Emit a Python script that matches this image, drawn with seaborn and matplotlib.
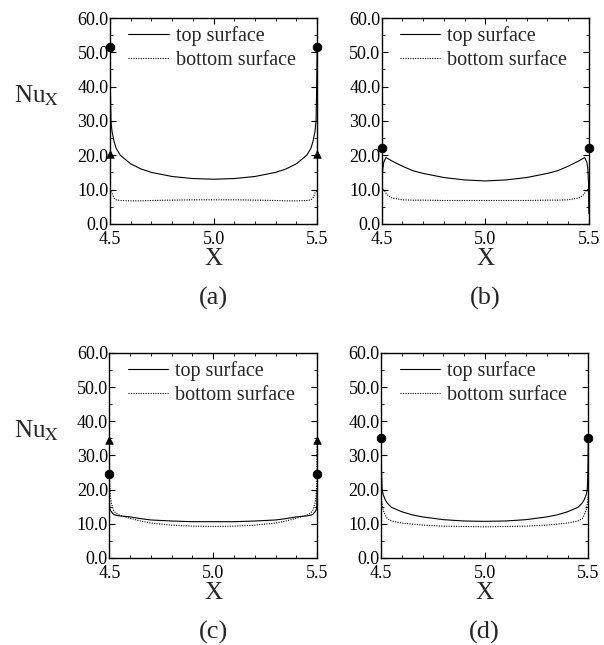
import pandas as pd
import matplotlib.pyplot as plt
import seaborn as sns
from matplotlib.ticker import MultipleLocator, FormatStrFormatter

# ==========================================
# 1. DADOS
# ==========================================
X = [4.500, 4.502, 4.505, 4.51, 4.52, 4.53, 4.55, 4.60, 4.65, 4.70, 4.80, 4.90, 5.00,
     5.10, 5.20, 5.30, 5.35, 5.40, 5.45, 5.47, 5.48, 5.49, 5.495, 5.498, 5.500]

TOP_A = [50.0, 40.0, 30.0, 27.0, 24.0, 22.0, 20.0, 17.5, 16.0, 15.0, 13.8, 13.2, 13.0,
         13.2, 13.8, 15.0, 16.0, 17.5, 20.0, 22.0, 24.0, 27.0, 30.0, 40.0, 50.0]
BOT_A = [10.0, 9.5, 9.5, 9.0, 7.5, 7.0, 6.8, 6.7, 6.7, 6.8, 6.9, 7.0, 7.0,
         7.0, 6.9, 6.8, 6.7, 6.7, 6.8, 7.0, 7.5, 9.0, 9.5, 9.5, 10.0]

TOP_B = [3.0, 12.0, 16.0, 18.0, 19.3, 19.0, 18.3, 16.8, 15.5, 14.7, 13.5, 12.8, 12.5,
         12.8, 13.5, 14.7, 15.5, 16.8, 18.3, 19.0, 19.3, 18.0, 16.0, 12.0, 3.0]
BOT_B = [5.0, 9.0, 10.0, 10.0, 9.0, 8.2, 7.5, 7.0, 6.9, 6.9, 6.8, 6.8, 6.8,
         6.8, 6.8, 6.9, 6.9, 7.0, 7.5, 8.2, 9.0, 10.0, 10.0, 9.0, 5.0]

TOP_C = [20.0, 14.5, 14.0, 13.5, 12.8, 12.5, 12.3, 12.0, 11.5, 11.1, 10.8, 10.6, 10.6,
         10.6, 10.8, 11.1, 11.5, 12.0, 12.3, 12.5, 12.8, 13.5, 14.0, 14.5, 20.0]
BOT_C = [34.0, 22.0, 18.0, 16.0, 14.0, 13.2, 12.5, 11.6, 10.8, 10.2, 9.6, 9.3, 9.2,
         9.3, 9.6, 10.2, 10.8, 11.6, 12.5, 13.2, 14.0, 16.0, 18.0, 22.0, 34.0]

TOP_D = [35.0, 25.0, 20.0, 18.5, 17.0, 16.0, 14.8, 13.5, 12.6, 12.0, 11.2, 10.8, 10.7,
         10.8, 11.2, 12.0, 12.6, 13.5, 14.8, 16.0, 17.0, 18.5, 20.0, 25.0, 35.0]
BOT_D = [18.0, 17.0, 16.0, 14.0, 12.5, 11.5, 10.8, 10.2, 9.9, 9.6, 9.3, 9.2, 9.1,
         9.2, 9.3, 9.6, 9.9, 10.2, 10.8, 11.5, 12.5, 14.0, 16.0, 17.0, 18.0]

# marcadores nas bordas (x, y)
CIRCLES = {'a': [(4.5, 51.5), (5.5, 51.5)], 'b': [(4.5, 22.0), (5.5, 22.0)],
           'c': [(4.5, 24.5), (5.5, 24.5)], 'd': [(4.5, 35.0), (5.5, 35.0)]}
TRIANGLES = {'a': [(4.5, 20.5), (5.5, 20.5)], 'b': [],
             'c': [(4.5, 34.5), (5.5, 34.5)], 'd': []}

PANELS = {'a': (TOP_A, BOT_A), 'b': (TOP_B, BOT_B),
          'c': (TOP_C, BOT_C), 'd': (TOP_D, BOT_D)}

# ==========================================
# 2. ESTILO
# ==========================================
sns.set_theme(style="ticks")
plt.rcParams['font.family'] = ['Liberation Serif', 'DejaVu Serif']
plt.rcParams['mathtext.fontset'] = 'stix'

fig = plt.figure(figsize=(6.04, 6.45), dpi=100)
POS = {'a': [0.182, 0.653, 0.343, 0.319], 'b': [0.632, 0.653, 0.343, 0.319],
       'c': [0.181, 0.135, 0.344, 0.318], 'd': [0.631, 0.135, 0.343, 0.318]}

# ==========================================
# 3. PLOTAGEM
# ==========================================
for key, (top, bot) in PANELS.items():
    ax = fig.add_axes(POS[key])
    df = pd.DataFrame({'x': X, 'top': top, 'bottom': bot})
    sns.lineplot(data=df, x='x', y='top', ax=ax, color='black', linewidth=0.8,
                 label='top surface')
    sns.lineplot(data=df, x='x', y='bottom', ax=ax, color='black', linewidth=0.8,
                 linestyle=(0, (1, 1.2)), label='bottom surface')

    if CIRCLES[key]:
        cx, cy = zip(*CIRCLES[key])
        sns.scatterplot(x=list(cx), y=list(cy), ax=ax, color='black', marker='o',
                        s=40, edgecolor='black', zorder=5, clip_on=False, legend=False)
    if TRIANGLES[key]:
        tx, ty = zip(*TRIANGLES[key])
        sns.scatterplot(x=list(tx), y=list(ty), ax=ax, color='black', marker='^',
                        s=30, edgecolor='black', zorder=5, clip_on=False, legend=False)

    ax.set_xlim(4.5, 5.5)
    ax.set_ylim(0, 60)
    ax.xaxis.set_major_locator(MultipleLocator(0.5))
    ax.xaxis.set_minor_locator(MultipleLocator(0.1))
    ax.yaxis.set_major_locator(MultipleLocator(10))
    ax.yaxis.set_minor_locator(MultipleLocator(5))
    ax.xaxis.set_major_formatter(FormatStrFormatter('%.1f'))
    ax.yaxis.set_major_formatter(FormatStrFormatter('%.1f'))
    ax.tick_params(which='both', direction='in', top=True, right=True,
                   labelsize=13, colors='black')
    ax.tick_params(axis='y', pad=1)
    ax.tick_params(axis='x', pad=5)
    ax.tick_params(which='major', length=4, width=0.8)
    ax.tick_params(which='minor', length=2.5, width=0.6)
    for sp in ax.spines.values():
        sp.set_linewidth(1.0)
        sp.set_color('black')

    ax.set_xlabel('X', fontsize=18, labelpad=0)
    ax.set_ylabel('')
    ax.legend(loc='upper left', frameon=False, fontsize=14.5, handlelength=2.0,
              handletextpad=0.35, borderaxespad=0, borderpad=0.4,
              labelspacing=0.25, bbox_to_anchor=(0.05, 1.0))

    bb = ax.get_position()
    fig.text(bb.x0 + bb.width / 2, bb.y0 - 0.116, f'({key})', ha='center',
             va='center', fontsize=19)
    if key in ('a', 'c'):
        fig.text(0.024, bb.y0 + bb.height * 0.62, r'Nu$_{\mathrm{X}}$', fontsize=18,
                 ha='left', va='center')

plt.savefig('out.png', dpi=100)
plt.close()
